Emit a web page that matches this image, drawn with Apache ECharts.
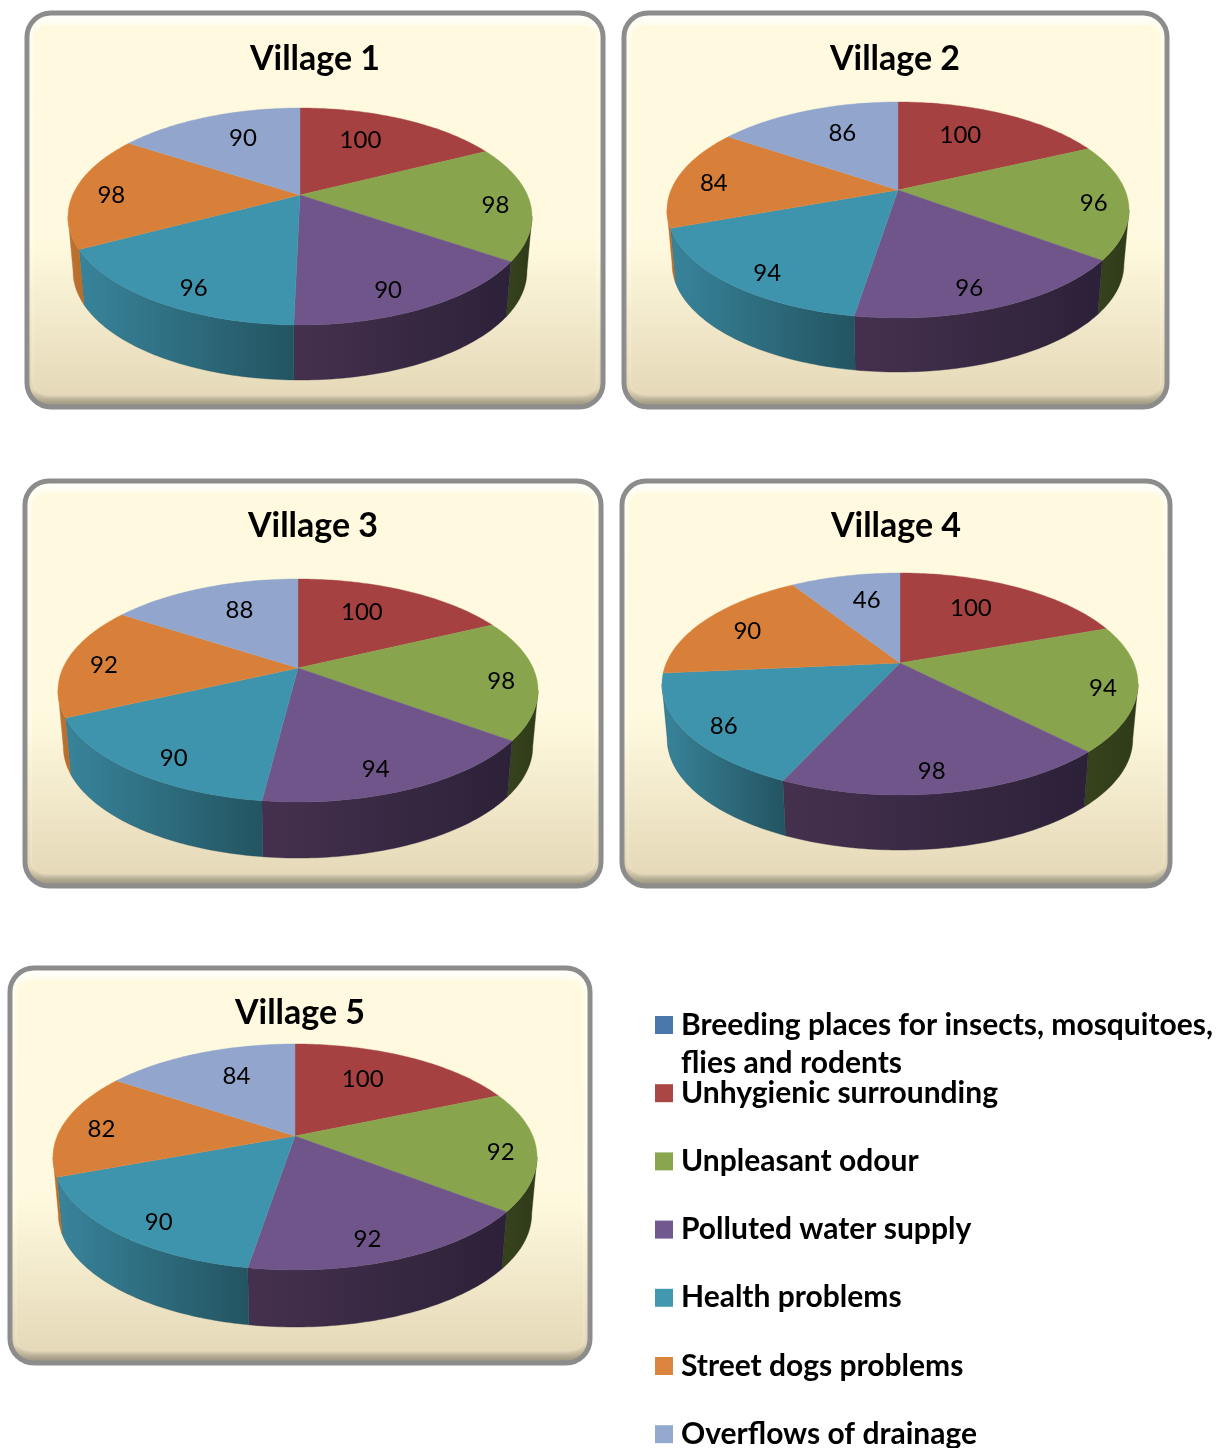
<!DOCTYPE html>
<html>
<head>
<meta charset="utf-8">
<style>html,body{margin:0;padding:0;background:#fff}#c{width:1217px;height:1448px}</style>
<script src="https://cdn.jsdelivr.net/npm/echarts@6/dist/echarts.min.js"></script>
</head>
<body>
<div id="c"></div>
<script>
// ---- data ----
const categories = [
  'Breeding places for insects, mosquitoes,\nflies and rodents',
  'Unhygienic surrounding',
  'Unpleasant odour',
  'Polluted water supply',
  'Health problems',
  'Street dogs problems',
  'Overflows of drainage'
];
const villages = ['Village 1', 'Village 2', 'Village 3', 'Village 4', 'Village 5'];
const village1 = [null, 100, 98, 90, 96, 98, 90];
const village2 = [null, 100, 96, 96, 94, 84, 86];
const village3 = [null, 100, 98, 94, 90, 92, 88];
const village4 = [null, 100, 94, 98, 86, 90, 46];
const village5 = [null, 100, 92, 92, 90, 82, 84];
const villageValues = [village1, village2, village3, village4, village5];

// ---- styles ----
const legendColors = ['#4A78AC', '#AA4643', '#89A54E', '#71588F', '#4198AF', '#DB843D', '#93A9CF'];
const topColors    = ['#4A78AC', '#A64141', '#88A44C', '#70558A', '#3F94AD', '#D8803A', '#91A5CD'];
const sideColors = [
  ['#3A5F89', '#2C4767'], ['#7F3130', '#632625'], ['#36431C', '#2F3B19'],
  ['#45314F', '#2C2138'], ['#38849B', '#235461'], ['#C07433', '#B66C2C'], ['#71809F', '#5C6A85']
];

// ---- layout (pixels) ----
const panels = [
  {x: 27, y: 13, w: 576, h: 394, tx: 315, ty: 59},
  {x: 624, y: 13, w: 543, h: 394, tx: 895, ty: 59},
  {x: 25, y: 481, w: 576, h: 405, tx: 313, ty: 526},
  {x: 622, y: 481, w: 548, h: 405, tx: 896, ty: 526},
  {x: 10, y: 968, w: 580, h: 395, tx: 300, ty: 1013}
];
// apex position, half width, back and front radius of the top face, extrusion depth
const pies = [
  {cx: 300, cy: 195, rx: 232, back: 87, front: 130, depth: 55},
  {cx: 898, cy: 190, rx: 231, back: 88, front: 128, depth: 54},
  {cx: 298, cy: 668, rx: 240, back: 89, front: 134, depth: 56},
  {cx: 900, cy: 663, rx: 238, back: 90, front: 132, depth: 55},
  {cx: 295, cy: 1136, rx: 242, back: 92, front: 134, depth: 57}
];
const bottomScale = 0.978;

function project(p, theta, f) {
  const k = (p.front - p.back) / (p.front + p.back);
  const A = p.rx * Math.sqrt(1 - k * k), B = p.back * (1 + k);
  const u = Math.sin(theta), v = -Math.cos(theta);
  const w = 1 - k * f * v;
  return [p.cx + A * f * u / w, p.cy + B * f * v / w];
}
function labelPos(p, theta) {
  const k = (p.front - p.back) / (p.front + p.back);
  const B = p.back * (1 + k);
  const u = Math.sin(theta), v = -Math.cos(theta);
  const neg = Math.max(0, -v), pos = Math.max(0, v);
  const f = 0.85 - 0.15 * neg;
  const ax = 0.83 - 0.42 * Math.pow(neg, 1.5) + 0.07 * Math.sin(Math.PI * pos);
  let ox, oy;
  if (u >= 0) {
    ox = v > 0.5 ? -2 : 0;
    oy = v > 0.5 ? 2 : 4 - 2 * neg;
  } else {
    ox = -2 + 5 * Math.exp(-Math.pow(v / 0.25, 2)) - 3 * Math.pow(neg, 4);
    oy = v > 0.5 ? 5 : 4 - 2 * neg;
  }
  return [p.cx + p.rx * ax * u + ox, p.cy + B * f * v / (1 - k * f * v) + oy];
}
function arc(p, a0, a1, dy, sx) {
  const n = Math.max(2, Math.ceil((a1 - a0) / (Math.PI / 180)));
  const pts = [];
  for (let i = 0; i <= n; i++) {
    const q = project(p, a0 + (a1 - a0) * i / n, 1);
    pts.push([p.cx + (q[0] - p.cx) * sx, q[1] + dy]);
  }
  return pts;
}

function renderSlice(catIndex) {
  return function (params, api) {
    const vi = api.value(0), value = api.value(1);
    if (!value) return {type: 'group', children: []};
    const vals = villageValues[vi];
    const total = vals.reduce((s, x) => s + (x || 0), 0);
    const before = vals.slice(0, catIndex).reduce((s, x) => s + (x || 0), 0);
    const a0 = before / total * Math.PI * 2;
    const a1 = (before + value) / total * Math.PI * 2;
    const p = pies[vi];
    const k = (p.front - p.back) / (p.front + p.back);
    const visL = Math.acos(-k), visR = Math.PI * 2 - visL;
    const children = [];
    const s0 = Math.max(a0, visL), s1 = Math.min(a1, visR);
    if (s1 > s0) {
      const upper = arc(p, s0, s1, 0, 1), lower = arc(p, s0, s1, p.depth, bottomScale).reverse();
      children.push({
        type: 'polygon',
        shape: {points: upper.concat(lower)},
        style: {
          fill: new echarts.graphic.LinearGradient(0, 0, 1, 0, [
            {offset: 0, color: sideColors[catIndex][0]},
            {offset: 1, color: sideColors[catIndex][1]}
          ]),
          stroke: sideColors[catIndex][1], lineWidth: 0.4
        },
        z2: 1
      });
    }
    children.push({
      type: 'polygon',
      shape: {points: [[p.cx, p.cy]].concat(arc(p, a0, a1, 0, 1))},
      style: {fill: topColors[catIndex], stroke: topColors[catIndex], lineWidth: 0.4},
      z2: 2
    });
    const lp = labelPos(p, (a0 + a1) / 2);
    children.push({
      type: 'text',
      style: {
        x: lp[0], y: lp[1], text: String(value), align: 'center', verticalAlign: 'middle',
        fontFamily: 'Lato', fontSize: 24, fill: '#000'
      },
      z2: 10
    });
    return {type: 'group', children};
  };
}

const panelGraphics = [];
panels.forEach(b => {
  panelGraphics.push({
    type: 'rect', z: -3,
    shape: {x: b.x, y: b.y, width: b.w, height: b.h, r: 24},
    style: {
      fill: {type: 'linear', x: 0, y: 0, x2: 0, y2: 1, colorStops: [
        {offset: 0, color: '#FFFFFF'}, {offset: 0.04, color: '#FFFDF0'},
        {offset: 0.6, color: '#FFFBE6'}, {offset: 0.95, color: '#DDD1B0'}, {offset: 1, color: '#8D8675'}
      ]},
      stroke: '#8C8C8C', lineWidth: 5
    }
  });
  panelGraphics.push({
    type: 'rect', z: -2,
    shape: {x: b.x + 7, y: b.y + 12, width: b.w - 14, height: b.h - 24, r: 14},
    style: {
      fill: {type: 'linear', x: 0, y: 0, x2: 0, y2: 1, colorStops: [
        {offset: 0, color: '#FFFADF'}, {offset: 0.58, color: '#FFFADF'}, {offset: 1, color: '#E5D9B8'}
      ]},
      shadowBlur: 6, shadowColor: 'rgba(255,250,225,0.9)'
    }
  });
});
panelGraphics.push({
  type: 'text', z: 5,
  style: {
    x: 681, y: 1063, text: categories[0].split('\n')[1], verticalAlign: 'middle',
    fontFamily: 'Lato', fontWeight: 'bold', fontSize: 30, fill: '#000'
  }
});

const series = categories.map((name, ci) => ({
  type: 'custom',
  name,
  coordinateSystem: 'none',
  renderItem: renderSlice(ci),
  itemStyle: {color: legendColors[ci]},
  silent: true,
  data: villageValues.map((vals, vi) => [vi, vals[ci]]).filter(r => r[1] !== null)
}));

const chart = echarts.init(document.getElementById('c'), null, {renderer: 'canvas'});
chart.setOption({
  animation: false,
  backgroundColor: '#fff',
  title: villages.map((t, i) => ({
    text: t, left: panels[i].tx, top: panels[i].ty,
    textAlign: 'center', textVerticalAlign: 'middle', padding: 0,
    textStyle: {fontFamily: 'Lato', fontWeight: 'bold', fontSize: 34, color: '#000'}
  })),
  legend: {
    orient: 'vertical', left: 655, top: 1010, height: 500, width: 562, padding: 0,
    icon: 'rect', itemWidth: 18, itemHeight: 18, itemGap: 38.2,
    selectedMode: false,
    data: categories,
    formatter: n => n.split('\n')[0],
    textStyle: {fontFamily: 'Lato', fontWeight: 'bold', fontSize: 30, lineHeight: 30, color: '#000', padding: [0, 0, 0, 3]}
  },
  graphic: {elements: panelGraphics},
  series
});
</script>
</body>
</html>
